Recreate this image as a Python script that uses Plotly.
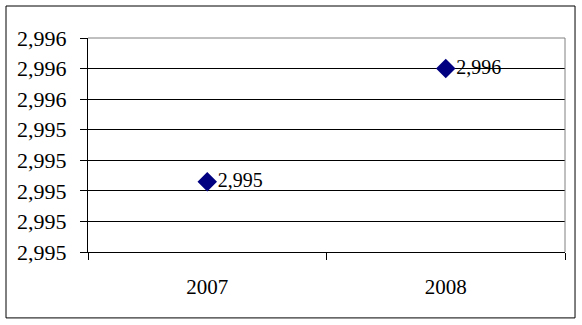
import plotly.graph_objects as go

years = ["2007", "2008"]
values = [2.995365, 2.99555]
y_tickvals = [2.99525, 2.9953, 2.99535, 2.9954, 2.99545, 2.9955, 2.99555, 2.9956]
y_ticktext = ["2,995", "2,995", "2,995", "2,995", "2,995", "2,996", "2,996", "2,996"]

point_labels = [f"{v:.3f}".replace(".", ",") for v in values]

FONT = "Liberation Serif, Times New Roman, DejaVu Serif, serif"

fig = go.Figure()
fig.add_trace(go.Scatter(
    x=years, y=values, mode="markers+text",
    marker=dict(symbol="diamond", size=15, color="#000080"),
    text=point_labels, textposition="middle right",
    textfont=dict(family=FONT, size=20, color="black"),
    showlegend=False, cliponaxis=False,
))

fig.update_layout(
    width=582, height=325,
    margin=dict(l=88, r=17, t=38, b=73),
    paper_bgcolor="white", plot_bgcolor="white",
    font=dict(family=FONT, size=21, color="black"),
    xaxis=dict(
        type="category", range=[-0.5, 1.5],
        showgrid=False, tickson="boundaries", ticks="outside", ticklen=7,
        tickcolor="black", showline=True, linecolor="black", linewidth=1,
        tickfont=dict(family=FONT, size=21, color="black"),
        ticklabelstandoff=16,
    ),
    yaxis=dict(
        range=[y_tickvals[0], y_tickvals[-1]],
        tickvals=y_tickvals, ticktext=y_ticktext,
        showgrid=True, gridcolor="black", gridwidth=1,
        ticks="outside", ticklen=7, tickcolor="black",
        showline=True, linecolor="black", linewidth=1, zeroline=False,
        tickfont=dict(family=FONT, size=22, color="black"),
        ticklabelstandoff=9,
    ),
    shapes=[
        dict(type="line", xref="paper", yref="paper", x0=0, x1=1, y0=1, y1=1,
             line=dict(color="#808080", width=1), layer="above"),
        dict(type="line", xref="paper", yref="paper", x0=1, x1=1, y0=0, y1=1,
             line=dict(color="#808080", width=1), layer="above"),
        dict(type="rect", xref="paper", yref="paper",
             x0=-0.1719, x1=1.021, y0=-0.308, y1=1.1495,
             line=dict(color="black", width=1), layer="above"),
    ],
)

fig.write_html("out.html")
